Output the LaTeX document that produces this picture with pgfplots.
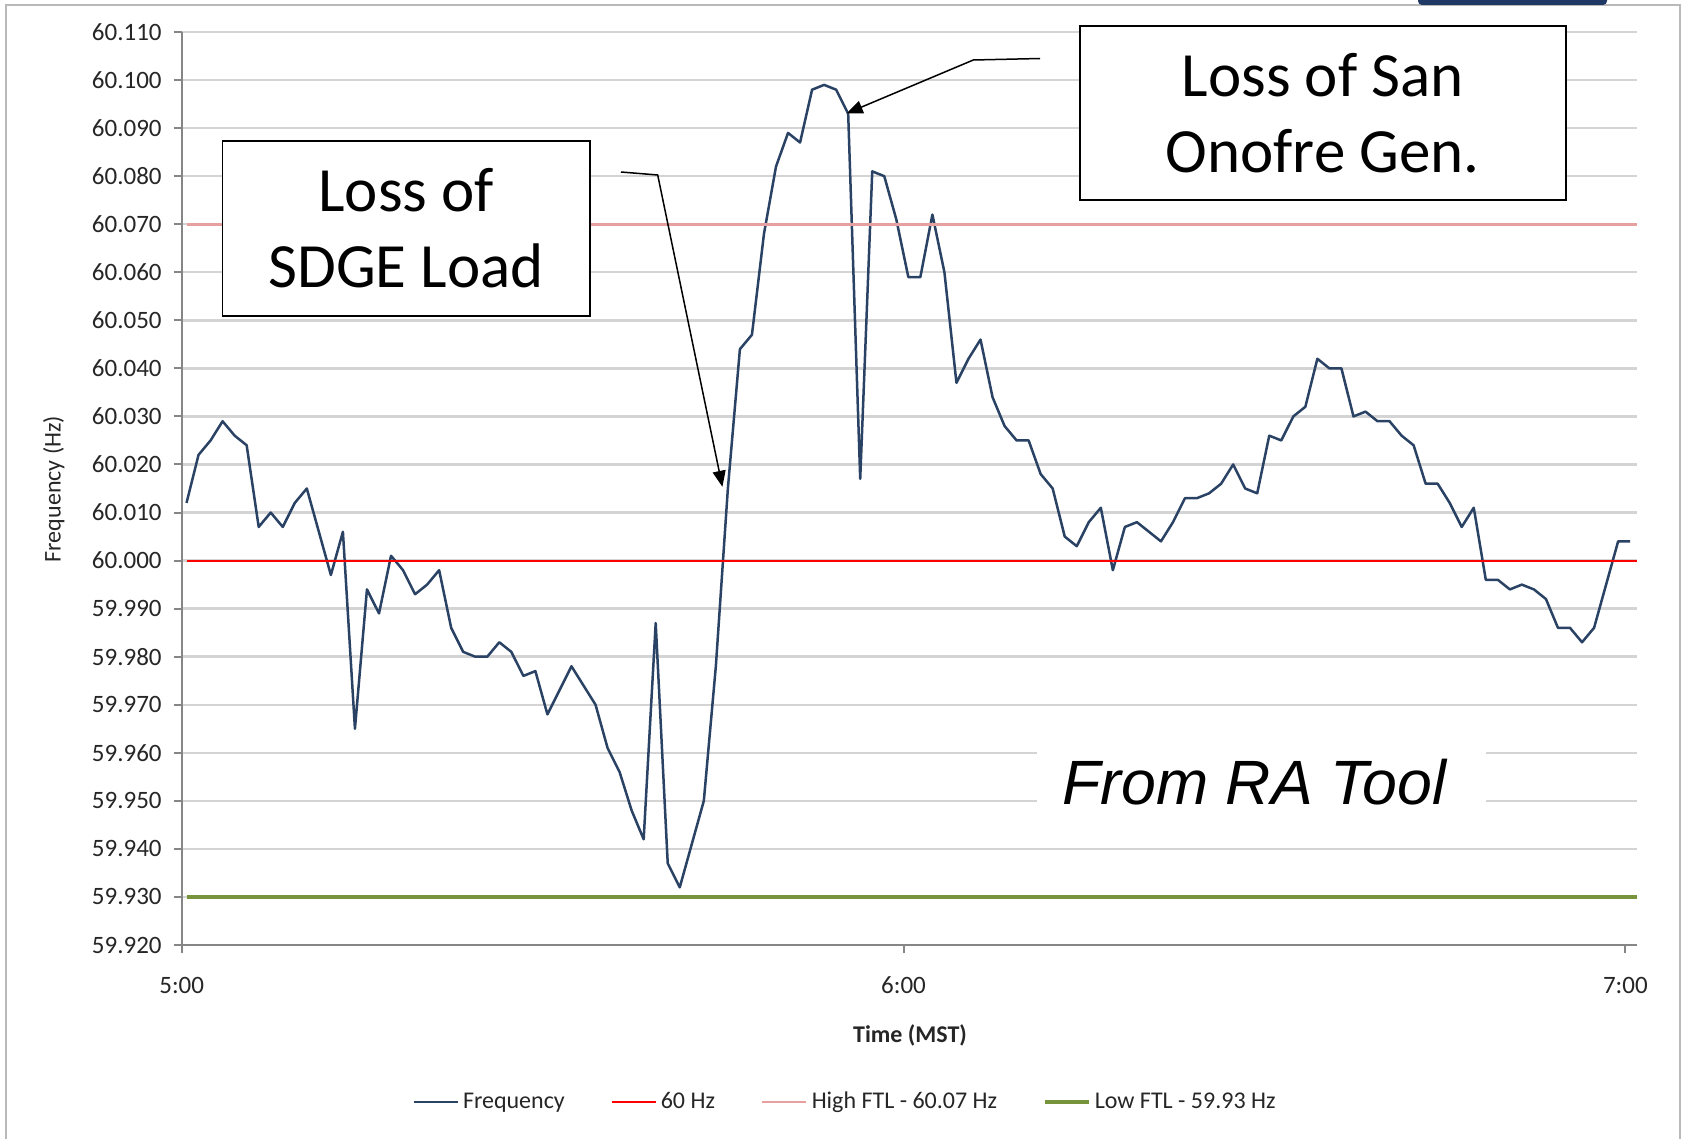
\documentclass[border=0pt]{standalone}
\usepackage{fontspec}
\setmainfont{Carlito}
\newfontfamily\arialfont{Liberation Sans}
\usepackage{pgfplots}
\usepackage{pgfplotstable}
\pgfplotsset{compat=1.18}
\usetikzlibrary{arrows.meta}
\definecolor{freq}{RGB}{42,66,100}
\definecolor{hz60}{RGB}{255,0,0}
\definecolor{highftl}{RGB}{230,160,160}
\definecolor{lowftl}{RGB}{119,147,60}
\definecolor{gridc}{RGB}{212,212,212}
\definecolor{axisc}{RGB}{134,134,134}
\definecolor{navy}{RGB}{31,56,100}

\pgfplotstableread{
x y
0.4 60.012
1.4 60.022
2.4 60.025
3.4 60.029
4.4 60.026
5.4 60.024
6.4 60.007
7.4 60.010
8.4 60.007
9.4 60.012
10.4 60.015
11.4 60.006
12.4 59.997
13.4 60.006
14.4 59.965
15.4 59.994
16.4 59.989
17.4 60.001
18.4 59.998
19.4 59.993
20.4 59.995
21.4 59.998
22.4 59.986
23.4 59.981
24.4 59.980
25.4 59.980
26.4 59.983
27.4 59.981
28.4 59.976
29.4 59.977
30.4 59.968
31.4 59.973
32.4 59.978
33.4 59.974
34.4 59.970
35.4 59.961
36.4 59.956
37.4 59.948
38.4 59.942
39.4 59.987
40.4 59.937
41.4 59.932
42.4 59.941
43.4 59.950
44.4 59.978
45.4 60.015
46.4 60.044
47.4 60.047
48.4 60.068
49.4 60.082
50.4 60.089
51.4 60.087
52.4 60.098
53.4 60.099
54.4 60.098
55.4 60.093
56.4 60.017
57.4 60.081
58.4 60.080
59.4 60.071
60.4 60.059
61.4 60.059
62.4 60.072
63.4 60.060
64.4 60.037
65.4 60.042
66.4 60.046
67.4 60.034
68.4 60.028
69.4 60.025
70.4 60.025
71.4 60.018
72.4 60.015
73.4 60.005
74.4 60.003
75.4 60.008
76.4 60.011
77.4 59.998
78.4 60.007
79.4 60.008
80.4 60.006
81.4 60.004
82.4 60.008
83.4 60.013
84.4 60.013
85.4 60.014
86.4 60.016
87.4 60.020
88.4 60.015
89.4 60.014
90.4 60.026
91.4 60.025
92.4 60.030
93.4 60.032
94.4 60.042
95.4 60.040
96.4 60.040
97.4 60.030
98.4 60.031
99.4 60.029
100.4 60.029
101.4 60.026
102.4 60.024
103.4 60.016
104.4 60.016
105.4 60.012
106.4 60.007
107.4 60.011
108.4 59.996
109.4 59.996
110.4 59.994
111.4 59.995
112.4 59.994
113.4 59.992
114.4 59.986
115.4 59.986
116.4 59.983
117.4 59.986
118.4 59.995
119.4 60.004
120.4 60.004
}\freqdata

\begin{document}
\begin{tikzpicture}
\path[use as bounding box] (0,0) rectangle (842.5pt,-569.5pt);
\fill[white] (0,0) rectangle (842.5pt,-569.5pt);
\draw[gray!55, line width=1pt] (3pt,-575pt) -- (3pt,-2.5pt) -- (840pt,-2.5pt) -- (840pt,-575pt);
\fill[navy, rounded corners=2pt] (709pt,4pt) rectangle (803.5pt,-2.5pt);
\begin{axis}[
  at={(90.85pt,-472.5pt)}, anchor=south west,
  scale only axis, width=727.65pt, height=456.5pt,
  xmin=0, xmax=120.97, ymin=59.92, ymax=60.11,
  axis lines*=left,
  axis line style={axisc, line width=1pt},
  tick style={axisc, line width=1pt},
  tick align=outside, major tick length=4pt,
  xtick={0,60,120}, xticklabels={5:00,6:00,7:00},
  ytick={59.92,59.93,59.94,59.95,59.96,59.97,59.98,59.99,60.00,60.01,60.02,60.03,60.04,60.05,60.06,60.07,60.08,60.09,60.10,60.11},
  scaled y ticks=false,
  yticklabel style={xshift=-2.5pt, /pgf/number format/.cd, fixed, fixed zerofill, precision=3, 1000 sep={}},
  xticklabel style={yshift=-8.5pt},
  /pgf/number format/assume math mode=true,
  ticklabel style={font=\fontsize{12.5}{14}\selectfont, text=black!85},
  ymajorgrids, grid style={gridc, line width=1.2pt},
  legend style={at={(0.4565,-0.172)}, anchor=center, legend columns=4, draw=none, fill=none,
    font=\fontsize{12}{14}\selectfont, text=black!85,
    /tikz/every even column/.append style={column sep=21pt}},
  legend cell align=left,
  legend image code/.code={\draw[#1] (0pt,0pt) -- (22pt,0pt);},
  clip=false,
]
\addplot[freq, line width=1.25pt, line join=round] table[x=x,y=y]{\freqdata};
\addlegendentry{Frequency}
\addplot[hz60, line width=1pt] coordinates {(0.4,60.00) (120.97,60.00)};
\addlegendentry{60 Hz}
\addplot[highftl, line width=1.4pt] coordinates {(0.4,60.07) (120.97,60.07)};
\addlegendentry{High FTL - 60.07 Hz}
\addplot[lowftl, line width=1.8pt] coordinates {(0.4,59.93) (120.97,59.93)};
\addlegendentry{Low FTL - 59.93 Hz}
\end{axis}
% axis titles
\node[rotate=90, font=\fontsize{12}{14}\selectfont, text=black!85] at (26.85pt,-244.5pt) {Frequency (Hz)};
\node[font=\bfseries\fontsize{12}{14}\selectfont, text=black!85] at (455pt,-517.5pt) {Time (MST)};
% From RA Tool
\fill[white] (518.5pt,-362.5pt) rectangle (743pt,-415pt);
\node[anchor=base west, inner sep=0pt, font=\arialfont\itshape\fontsize{31.3}{36}\selectfont] at (531pt,-402pt) {From RA Tool};
% annotation boxes
\draw[black, line width=0.8pt, fill=white] (111.2pt,-70.4pt) rectangle (295pt,-158pt);
\node[align=center, font=\fontsize{31.5}{38}\selectfont] at (203.1pt,-114.2pt) {Loss of\\SDGE Load};
\draw[black, line width=0.8pt, fill=white] (540pt,-12.9pt) rectangle (782.85pt,-99.95pt);
\node[align=center, font=\fontsize{31.5}{38}\selectfont] at (661.4pt,-56.4pt) {Loss of San\\Onofre Gen.};
% arrows
\draw[black, line width=0.75pt, -{Triangle[length=8pt,width=6.5pt]}] (310.5pt,-86pt) -- (328.85pt,-87.5pt) -- (361.2pt,-243.4pt);
\draw[black, line width=0.75pt, -{Triangle[length=8pt,width=6.5pt]}] (520pt,-29.25pt) -- (486.65pt,-30pt) -- (423.35pt,-56.65pt);
\end{tikzpicture}
\end{document}
